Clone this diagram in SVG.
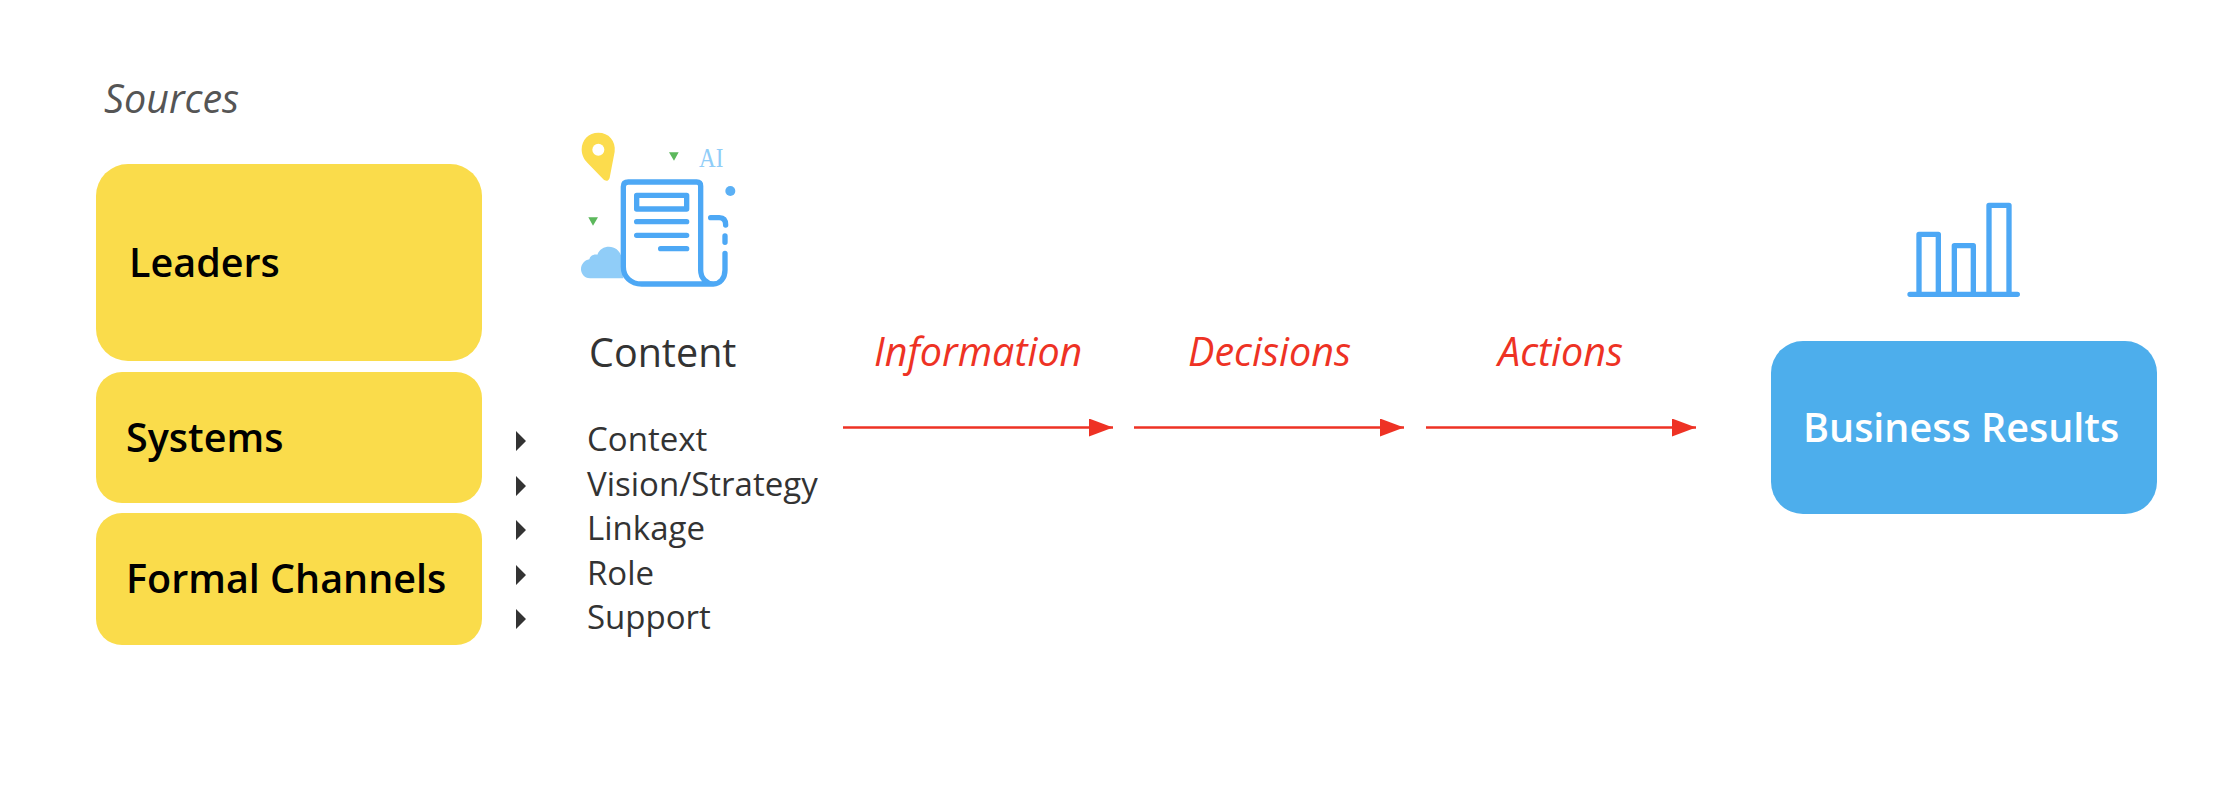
<svg xmlns="http://www.w3.org/2000/svg" width="2234" height="812" viewBox="0 0 2234 812">
<defs>
<style>
text{font-family:"Open Sans","Noto Sans","Liberation Sans",sans-serif}
.y{fill:#FADC4B}
.b{font-size:39.5px;font-weight:600;fill:#000}
.l{font-size:33px;fill:#333}
.r{font-size:39.5px;font-style:italic;fill:#EE3224}
.c{stroke:#EE3224;stroke-width:2.500;fill:none;marker-end:url(#ah)}
.i{fill:none;stroke:#4DA8F5;stroke-width:16;stroke-linecap:round;stroke-linejoin:round}
</style>
<marker id="ah" markerUnits="userSpaceOnUse" markerWidth="24" markerHeight="18" refX="24" refY="9" orient="auto"><path d="M0 0L24 9L0 18Z" fill="#EE3224"/></marker>
</defs>
<rect width="2234" height="812" fill="#fff"/>
<text id="sources" x="104" y="113" font-size="39.5" font-style="italic" style="fill:#555">Sources</text>
<g id="leaders"><rect class="y" x="96" y="164" width="386" height="197" rx="32"/><text class="b" x="129" y="277">Leaders</text></g>
<g id="systems"><rect class="y" x="96" y="372" width="386" height="131" rx="26"/><text class="b" x="126" y="452">Systems</text></g>
<g id="formal-channels"><rect class="y" x="96" y="513" width="386" height="132" rx="26"/><text class="b" x="126" y="593">Formal Channels</text></g>
<g id="content-icon" transform="translate(560 110) scale(.33333)">
<path d="M115 68C86 68 65 90 65 118C65 135 72 148 82 158L130 208C138 216 147 212 149 203L164 125C168 92 146 68 115 68Z" fill="#FCDC4D"/>
<circle cx="115" cy="119" r="18" fill="#fff"/>
<path d="M327 127H356L342 152Z M85 322H114L99 347Z" fill="#5CB85C"/>
<text x="417" y="172" font-size="80" textLength="73" lengthAdjust="spacingAndGlyphs" style="font-family:'Liberation Serif',serif;fill:#90CDF8">AI</text>
<circle cx="511" cy="243" r="15" fill="#5BB0F5"/>
<path d="M190 505H90C72 505 63 490 63 478C63 462 75 450 88 448C90 438 100 432 112 434C118 418 132 410 147 410C165 410 180 422 184 440L190 505Z" fill="#90CDF8"/>
<path class="i" d="M205 216H410Q422 216 422 228V480C422 505 440 522 460 522C480 522 495 505 495 480V430M460 522H245C212 522 190 500 190 470V230Q190 216 205 216"/>
<rect class="i" x="230" y="256" width="150" height="41"/>
<path class="i" d="M230 335H380M230 376H380M302 416H380M452 323H478Q497 323 497 345M495 378V397"/>
</g>
<g id="content"><text x="589" y="367" font-size="39.5" style="fill:#333">Content</text></g>
<g id="list">
<path d="M516 431L526 441L516 451Z M516 476L526 486L516 496Z M516 520L526 530L516 540Z M516 565L526 575L516 585Z M516 609L526 619L516 629Z" fill="#333"/>
<text class="l" x="587" y="451">Context</text>
<text class="l" x="587" y="496">Vision/Strategy</text>
<text class="l" x="587" y="540">Linkage</text>
<text class="l" x="587" y="585">Role</text>
<text class="l" x="587" y="629">Support</text>
</g>
<g id="connectors">
<path class="c" d="M843 427.500H1113"/>
<path class="c" d="M1134 427.500H1404"/>
<path class="c" d="M1426 427.500H1696"/>
</g>
<g id="labels">
<text class="r" x="874" y="366">Information</text>
<text class="r" x="1188" y="366">Decisions</text>
<text class="r" x="1498" y="366">Actions</text>
</g>
<g id="chart-icon" transform="translate(1880 180) scale(.33333)">
<path class="i" d="M90 343H412M117 343V163H175V343M223 343V197H280V343M327 343V76H387V343"/>
</g>
<g id="business-results"><rect x="1771" y="341" width="386" height="173" rx="32" fill="#4DAEEC"/><text x="1803" y="442" font-size="39.5" font-weight="600" style="fill:#fff">Business Results</text></g>
</svg>
